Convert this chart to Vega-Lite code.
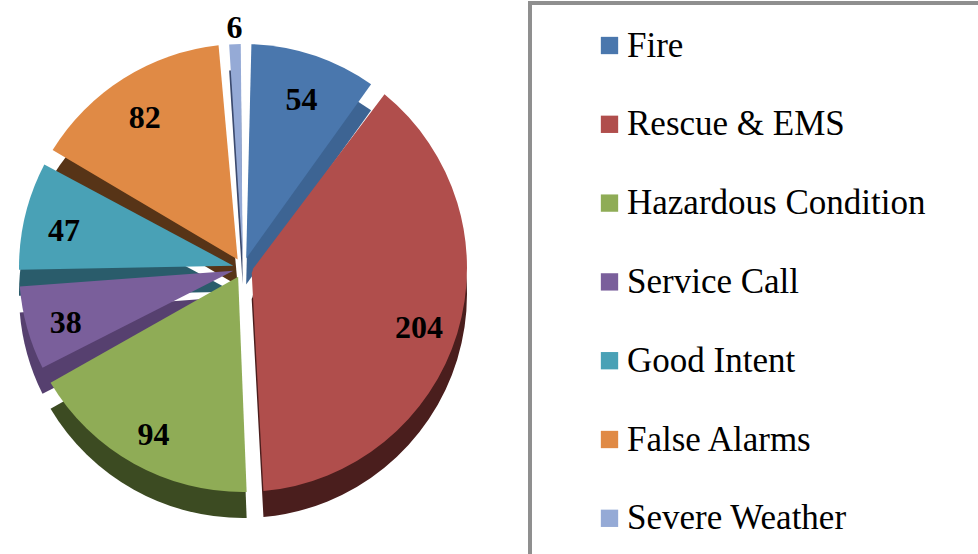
{
  "$schema": "https://vega.github.io/schema/vega-lite/v6.json",
  "width": 486,
  "height": 536,
  "autosize": {"type": "none"},
  "padding": {"left": 0, "top": 0, "right": 492, "bottom": 18},
  "background": "white",
  "data": {
    "values": [
      {"Category": "Fire", "Count": 54},
      {"Category": "Rescue & EMS", "Count": 204},
      {"Category": "Hazardous Condition", "Count": 94},
      {"Category": "Service Call", "Count": 38},
      {"Category": "Good Intent", "Count": 47},
      {"Category": "False Alarms", "Count": 82},
      {"Category": "Severe Weather", "Count": 6}
    ]
  },
  "transform": [{"window": [{"op": "row_number", "as": "idx"}]}],
  "encoding": {
    "theta": {"field": "Count", "type": "quantitative", "stack": true},
    "order": {"field": "idx", "type": "quantitative"}
  },
  "layer": [
    {
      "mark": {"type": "arc", "outerRadius": 224, "innerRadius": 10, "padAngle": 0.075, "yOffset": 26},
      "encoding": {
        "color": {
          "field": "Category",
          "type": "nominal",
          "scale": {
            "domain": ["Fire", "Rescue & EMS", "Hazardous Condition", "Service Call", "Good Intent", "False Alarms", "Severe Weather"],
            "range": ["#3d6493", "#4a1e1d", "#3c4b22", "#56406f", "#2a5c6b", "#573417", "#5b6e98"]
          },
          "legend": null
        },
        "fillOpacity": {"condition": {"test": "datum.Category === 'Severe Weather'", "value": 0}, "value": 1}
      }
    },
    {
      "mark": {"type": "arc", "outerRadius": 224, "innerRadius": 10, "padAngle": 0.02, "yOffset": 26, "color": "#3b4a6e"},
      "encoding": {
        "fillOpacity": {"condition": {"test": "datum.Category === 'Severe Weather'", "value": 1}, "value": 0}
      }
    },
    {
      "mark": {"type": "arc", "outerRadius": 224, "innerRadius": 10, "padAngle": 0.075},
      "encoding": {
        "color": {
          "field": "Category",
          "type": "nominal",
          "scale": {
            "domain": ["Fire", "Rescue & EMS", "Hazardous Condition", "Service Call", "Good Intent", "False Alarms", "Severe Weather"],
            "range": ["#4a77ad", "#b04e4c", "#8fac56", "#7a5f9b", "#49a1b6", "#e08a45", "#95aad6"]
          },
          "legend": {
            "orient": "none",
            "legendX": 530,
            "legendY": 3,
            "title": " ",
            "titleOrient": "left",
            "titleFontSize": 8,
            "titlePadding": 37,
            "padding": 25,
            "strokeColor": "#8f8f8f",
            "symbolType": "square",
            "symbolSize": 300,
            "symbolStrokeWidth": 0,
            "symbolOpacity": 1,
            "labelFont": "Liberation Serif",
            "labelFontSize": 35,
            "labelColor": "black",
            "labelLimit": 900,
            "labelOffset": 0,
            "rowPadding": 42.8,
            "labelExpr": "datum.label + '\u2800\u2800'"
          }
        },
        "fillOpacity": {"condition": {"test": "datum.Category === 'Severe Weather'", "value": 0}, "value": 1}
      }
    },
    {
      "mark": {"type": "arc", "outerRadius": 224, "innerRadius": 10, "padAngle": 0.02, "color": "#95aad6"},
      "encoding": {
        "fillOpacity": {"condition": {"test": "datum.Category === 'Severe Weather'", "value": 1}, "value": 0}
      }
    },
    {
      "mark": {"type": "text", "radius": 184, "dy": 6, "font": "Liberation Serif", "fontWeight": "bold", "fontSize": 32, "color": "black"},
      "encoding": {
        "text": {"condition": {"test": "datum.Count < 10", "value": ""}, "field": "Count", "type": "quantitative"}
      }
    },
    {
      "mark": {"type": "text", "radius": 240, "font": "Liberation Serif", "fontWeight": "bold", "fontSize": 32, "color": "black"},
      "encoding": {
        "text": {"condition": {"test": "datum.Count >= 10", "value": ""}, "field": "Count", "type": "quantitative"}
      }
    }
  ],
  "resolve": {"scale": {"color": "independent"}},
  "config": {"view": {"stroke": null}, "legend": {"strokeWidth": 4}}
}
